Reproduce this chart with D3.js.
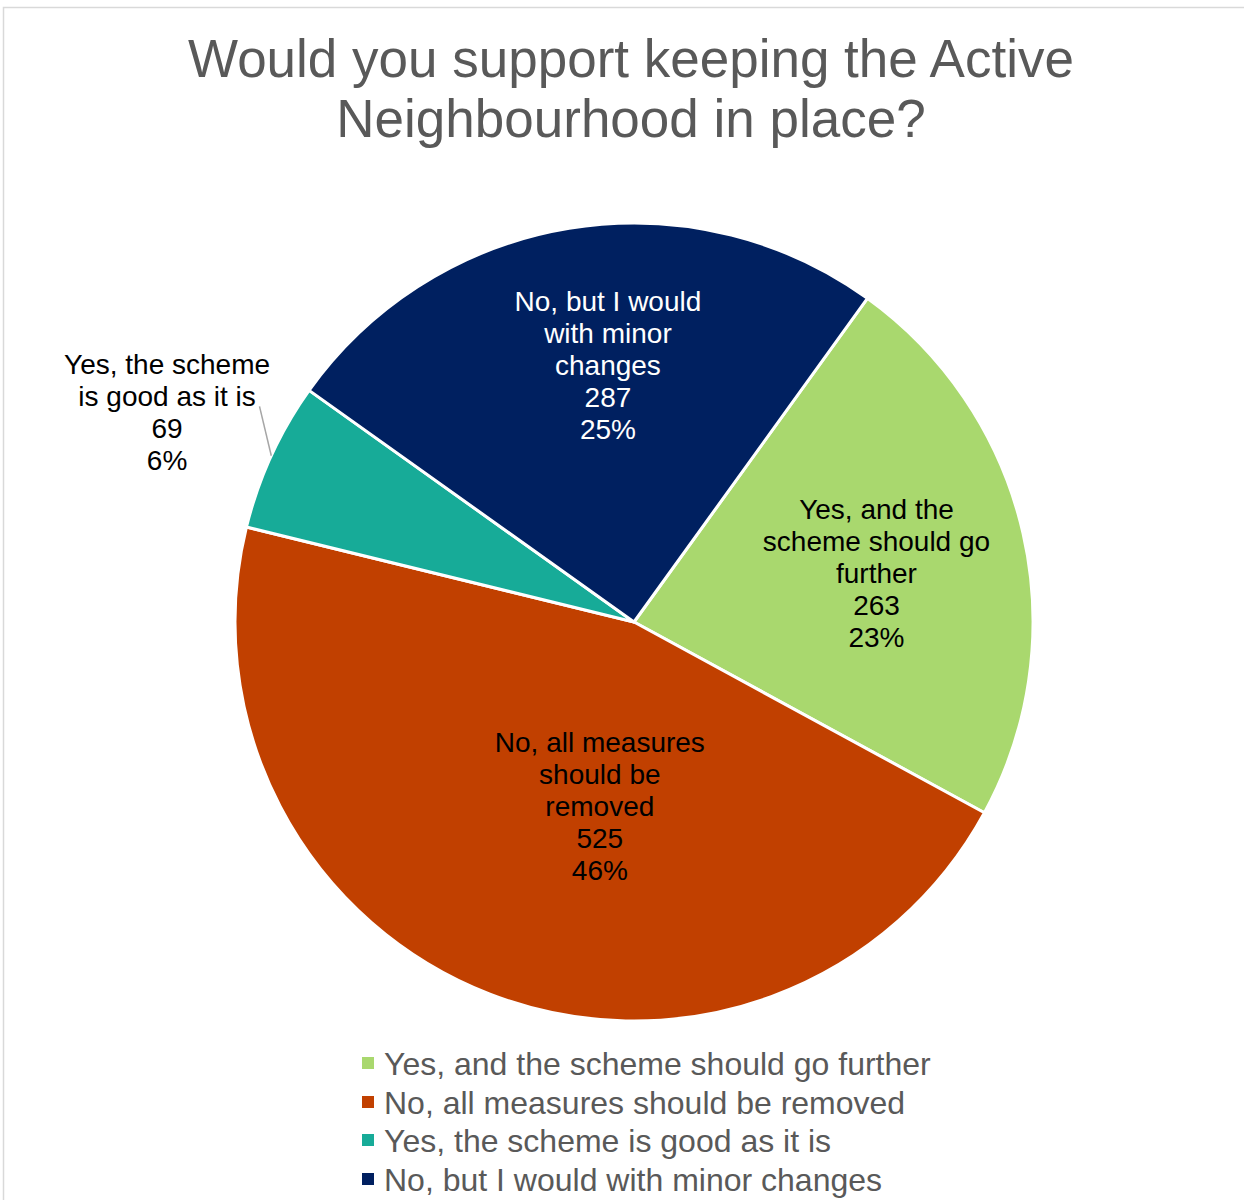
<!DOCTYPE html>
<html>
<head>
<meta charset="utf-8">
<script src="https://cdn.jsdelivr.net/npm/d3@7"></script>
<style>
  html, body { margin: 0; padding: 0; background: #ffffff; }
  svg { display: block; }
</style>
</head>
<body>
<svg id="chart" width="1244" height="1200"></svg>
<script>
// ---- data ----
const categories = [
  "Yes, and the scheme should go further",
  "No, all measures should be removed",
  "Yes, the scheme is good as it is",
  "No, but I would with minor changes"
];
const labelLines = [
  ["Yes, and the", "scheme should go", "further"],
  ["No, all measures", "should be", "removed"],
  ["Yes, the scheme", "is good as it is"],
  ["No, but I would", "with minor", "changes"]
];
const values = [263, 525, 69, 287];
const colors = ["#A9D86E", "#C14000", "#17AB98", "#002060"];
const labelColors = ["#000000", "#000000", "#000000", "#ffffff"];
const titleLines = ["Would you support keeping the Active", "Neighbourhood in place?"];

// ---- layout ----
const W = 1244, H = 1200;
const cx = 634, cy = 622, R = 399;
const startDeg = 35.8;
// label anchor (angle in degrees clockwise from 12 o'clock, radius as fraction of R)
const labelPolar = [[78.6, 0.62], [190.5, 0.47], [294.2, 1.283], [354.2, 0.647]];
const labelFont = 28, labelLH = 32;

const svg = d3.select("#chart");

// outer frame
svg.append("rect")
  .attr("x", 3.5).attr("y", 7.5)
  .attr("width", W + 20).attr("height", H + 20)
  .attr("fill", "none").attr("stroke", "#D9D9D9").attr("stroke-width", 1.5);

// title
svg.append("g").selectAll("text").data(titleLines).join("text")
  .attr("x", 631).attr("y", (d, i) => 77 + i * 60)
  .attr("text-anchor", "middle")
  .attr("font-family", "Liberation Sans, Arial, sans-serif")
  .attr("font-size", 53)
  .attr("fill", "#595959")
  .text(d => d);

const total = d3.sum(values);
const rad = d => d * Math.PI / 180;

const pie = d3.pie().sort(null).value(d => d)
  .startAngle(rad(startDeg)).endAngle(rad(startDeg + 360));
const arcs = pie(values);
const arcGen = d3.arc().innerRadius(0).outerRadius(R);

const g = svg.append("g").attr("transform", `translate(${cx},${cy})`);
g.selectAll("path").data(arcs).join("path")
  .attr("d", arcGen)
  .attr("fill", (d, i) => colors[i])
  .attr("stroke", "#ffffff")
  .attr("stroke-width", 3)
  .attr("stroke-linejoin", "round");

const polar = (deg, r) => [Math.sin(rad(deg)) * r, -Math.cos(rad(deg)) * r];

// leader line for the outside label (teal)
{
  const i = 2;
  const a = arcs[i];
  const midDeg = ((a.startAngle + a.endAngle) / 2) * 180 / Math.PI;
  const p1 = polar(midDeg, R);
  const p2 = polar(midDeg + 5.3, R * 1.083);
  g.append("line")
    .attr("x1", p1[0]).attr("y1", p1[1])
    .attr("x2", p2[0]).attr("y2", p2[1])
    .attr("stroke", "#A6A6A6").attr("stroke-width", 1.5);
}

// data labels
arcs.forEach((a, i) => {
  const [lx, ly] = polar(labelPolar[i][0], labelPolar[i][1] * R);
  const pct = Math.round(values[i] / total * 100) + "%";
  const lines = labelLines[i].concat([String(values[i]), pct]);
  const n = lines.length;
  const t = g.append("text")
    .attr("text-anchor", "middle")
    .attr("font-family", "Liberation Sans, Arial, sans-serif")
    .attr("font-size", labelFont)
    .attr("fill", labelColors[i]);
  lines.forEach((s, k) => {
    t.append("tspan")
      .attr("x", lx)
      .attr("y", ly + (k - (n - 1) / 2) * labelLH + 10)
      .text(s);
  });
});

// legend
const lg = svg.append("g").attr("transform", "translate(362,0)");
const rowY = [1064, 1103, 1141, 1180];
categories.forEach((c, i) => {
  lg.append("rect")
    .attr("x", 0).attr("y", rowY[i] - 7)
    .attr("width", 12).attr("height", 12)
    .attr("fill", colors[i]);
  lg.append("text")
    .attr("x", 22).attr("y", rowY[i] + 11)
    .attr("font-family", "Liberation Sans, Arial, sans-serif")
    .attr("font-size", 32)
    .attr("fill", "#595959")
    .text(c);
});
</script>
</body>
</html>
